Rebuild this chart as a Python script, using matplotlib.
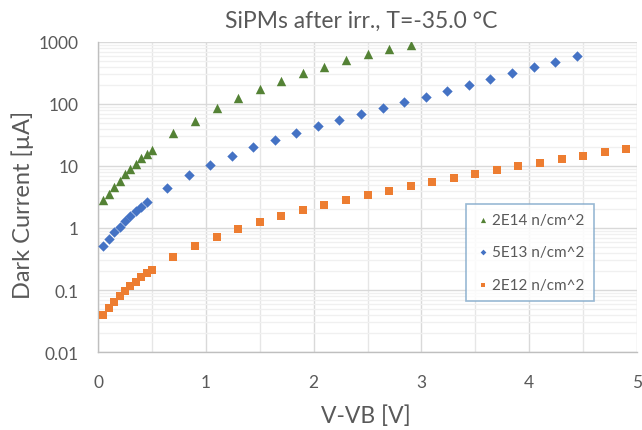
import matplotlib
matplotlib.use("Agg")
import matplotlib.pyplot as plt
from matplotlib.ticker import FixedLocator, NullFormatter

plt.rcParams['font.family'] = ['Lato', 'DejaVu Sans']

title = "SiPMs after irr., T=-35.0 \u00b0C"
xlabel = "V-VB [V]"
ylabel = "Dark Current [\u00b5A]"

x_2e14 = [0.05, 0.10, 0.15, 0.20, 0.25, 0.30, 0.35, 0.40, 0.45, 0.50,
          0.70, 0.90, 1.10, 1.30, 1.50, 1.70, 1.90, 2.10, 2.30, 2.50, 2.70, 2.90]
y_2e14 = [2.8, 3.6, 4.6, 5.7, 7.3, 9.0, 10.6, 13.5, 15.7, 18.4,
          33.6, 54, 85, 123, 174, 236, 314, 401, 514, 634, 764, 905]

x_5e13 = [0.05, 0.10, 0.15, 0.20, 0.25, 0.30, 0.35, 0.40, 0.45,
          0.64, 0.84, 1.04, 1.24, 1.44, 1.64, 1.84, 2.04, 2.24, 2.44, 2.64,
          2.84, 3.04, 3.24, 3.44, 3.64, 3.84, 4.04, 4.24, 4.44]
y_5e13 = [0.52, 0.66, 0.85, 1.03, 1.29, 1.58, 1.87, 2.2, 2.58,
          4.5, 7.2, 10.4, 14.7, 20, 26.3, 34, 43.5, 55.7, 68.8, 86.9,
          107, 132, 163, 204, 254, 314, 392, 482, 589]

x_2e12 = [0.05, 0.10, 0.15, 0.20, 0.25, 0.30, 0.35, 0.40, 0.45, 0.50,
          0.70, 0.90, 1.10, 1.30, 1.50, 1.70, 1.90, 2.10, 2.30, 2.50, 2.70,
          2.90, 3.10, 3.30, 3.50, 3.70, 3.90, 4.10, 4.30, 4.50, 4.70, 4.90]
y_2e12 = [0.040, 0.051, 0.063, 0.079, 0.095, 0.116, 0.137, 0.161, 0.186, 0.214,
          0.34, 0.51, 0.71, 0.95, 1.23, 1.55, 1.94, 2.33, 2.85, 3.43, 4.02,
          4.79, 5.55, 6.5, 7.55, 8.65, 9.9, 11.2, 12.8, 14.7, 16.6, 18.8]

labels = ["2E14 n/cm^2", "5E13 n/cm^2", "2E12 n/cm^2"]
xticks = [0, 1, 2, 3, 4, 5]
yticks = [0.01, 0.1, 1, 10, 100, 1000]
ytick_labels = ["0.01", "0.1", "1", "10", "100", "1000"]

W, H = 642, 431
fig = plt.figure(figsize=(W / 100, H / 100), dpi=100)
ax = fig.add_axes([98 / W, 1 - 353 / H, (637 - 98) / W, (353 - 43) / H])

ax.scatter(x_2e14, y_2e14, marker='^', s=46, color='#548235', label=labels[0], zorder=3, linewidths=0)
ax.scatter(x_5e13, y_5e13, marker='D', s=28, color='#4472c4', label=labels[1], zorder=3, linewidths=0)
ax.scatter(x_2e12, y_2e12, marker='s', s=38, color='#ed7d31', label=labels[2], zorder=3, linewidths=0)

ax.set_yscale('log')
ax.set_xlim(0, 5)
ax.set_ylim(0.01, 1000)
ax.set_xticks(xticks)
ax.set_xticklabels([str(t) for t in xticks])
ax.set_yticks(yticks)
ax.set_yticklabels(ytick_labels)
ax.xaxis.set_minor_locator(FixedLocator([0.5, 1.5, 2.5, 3.5, 4.5]))
minor_y = [m * 10.0 ** e for e in range(-2, 3) for m in range(2, 10)]
ax.yaxis.set_minor_locator(FixedLocator(minor_y))
ax.yaxis.set_minor_formatter(NullFormatter())

ax.grid(which='major', axis='both', color='#d9d9d9', linewidth=1.0, zorder=0)
ax.grid(which='minor', axis='x', color='#e6e6e6', linewidth=1.0, zorder=0)
ax.grid(which='minor', axis='y', color='#f0f0f0', linewidth=1.0, zorder=0)
ax.set_axisbelow(True)

for side in ['top', 'right']:
    ax.spines[side].set_visible(False)
for side in ['left', 'bottom']:
    ax.spines[side].set_color('#bfbfbf')
    ax.spines[side].set_linewidth(1.0)

ax.tick_params(which='both', length=0, colors='#595959', labelsize=12.5)
ax.tick_params(axis='y', pad=14)
ax.tick_params(axis='x', pad=16)

fig.text(361 / W, 1 - 28 / H, title, fontsize=16.5, color='#595959', ha='center', va='baseline')
fig.text(366 / W, 1 - 416 / H, xlabel, fontsize=16.5, color='#595959', ha='center', va='center')
fig.text(23 / W, 1 - 205 / H, ylabel, fontsize=17, color='#595959', ha='center', va='center', rotation=90)

leg = ax.legend(loc='upper left', bbox_to_anchor=((466 - 98) / (637 - 98), 1 - (205 - 43) / (353 - 43)),
                frameon=True, fancybox=False, fontsize=11, markerscale=0.55,
                handletextpad=0.1, handlelength=1.0, labelspacing=1.2,
                borderpad=0.6, borderaxespad=0)
leg.get_frame().set_edgecolor('#7fa7c9')
leg.get_frame().set_linewidth(1.2)
for t in leg.get_texts():
    t.set_color('#595959')

fig.savefig("out.png", dpi=100, facecolor='white')
